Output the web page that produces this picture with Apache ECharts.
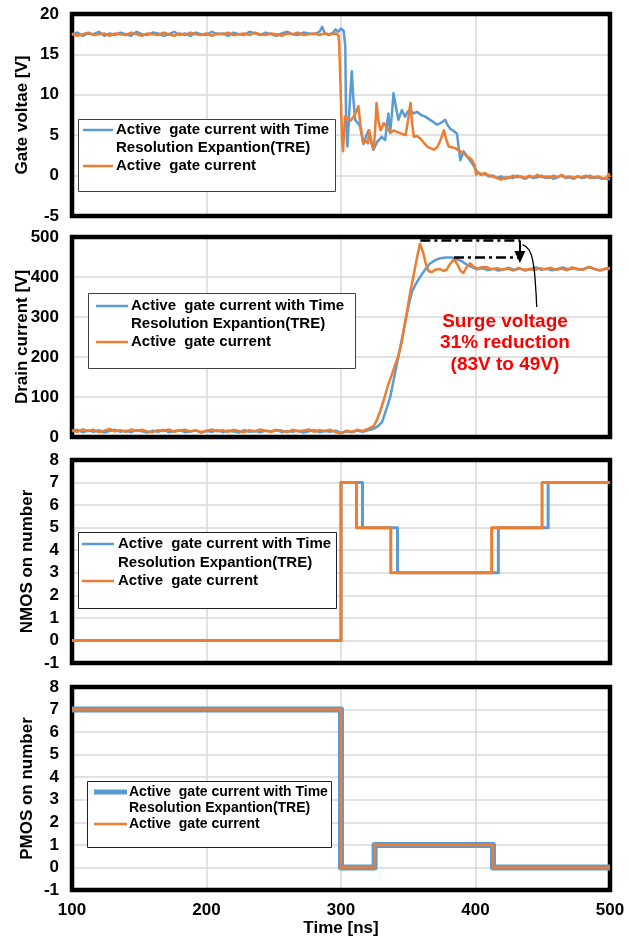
<!DOCTYPE html>
<html>
<head>
<meta charset="utf-8">
<script src="https://cdn.jsdelivr.net/npm/echarts/dist/echarts.min.js"></script>
<style>
  html, body { margin: 0; padding: 0; background: #ffffff; }
  #chart { width: 629px; height: 941px; }
</style>
</head>
<body>
<div id="chart"></div>
<script>
// Time axis (ns)
const timeTicks = [100, 200, 300, 400, 500];

// Series names shared by every panel
const seriesNames = [
  'Active  gate current with Time\nResolution Expantion(TRE)',
  'Active  gate current'
];
const seriesColors = ['#5b9bd5', '#ed7d31'];

// Gate voltage [V] vs time [ns]
const gateTre = [
  [100,17.4],[104,17.7],[108,17.3],[112,17.6],[116,17.5],[120,17.8],[124,17.3],[128,17.6],[132,17.4],[136,17.7],
  [140,17.5],[144,17.3],[148,17.8],[152,17.5],[156,17.4],[160,17.7],[164,17.6],[168,17.3],[172,17.5],[176,17.8],
  [180,17.4],[184,17.6],[188,17.3],[192,17.7],[196,17.5],[200,17.4],[204,17.8],[208,17.5],[212,17.6],[216,17.3],
  [220,17.7],[224,17.5],[228,17.4],[232,17.8],[236,17.6],[240,17.4],[244,17.7],[248,17.5],[252,17.3],[256,17.6],
  [260,17.8],[264,17.5],[268,17.4],[272,17.7],[276,17.6],[280,17.5],[284,17.8],[286,18.4],[288,17.6],[291,17.4],
  [294,17.7],[296,18.1],[298,17.8],[300,18.2],[302,17.9],[303.2,16.0],[303.8,6.4],[304.8,3.6],[306.5,9.0],[308,12.9],
  [309.2,9.5],[310.5,6.9],[312.5,6.5],[314.2,6.1],[316.6,3.9],[318.5,4.8],[320.4,5.6],[322.3,4.2],[324.1,3.2],[327,4.2],
  [330.3,4.8],[332.8,4.4],[335.2,7.7],[336.5,5.3],[337.8,7.5],[339,10.2],[340.5,8.8],[342.7,6.9],[345.2,8.1],[347.7,7.3],
  [349.5,7.9],[351.4,8.1],[354,7.7],[356.4,7.9],[359.5,7.5],[362.6,7.3],[366.3,6.9],[369,6.6],[371.3,6.3],[374,6.5],
  [377.5,6.9],[379.5,6.2],[381.2,5.8],[384,5.5],[386.2,5.2],[387.5,3.5],[388.7,1.9],[391.2,3.0],[393.7,2.4],[396.2,1.8],
  [398.7,1.2],[401.1,0.5],[404,0.1],[407,0.2],[410,-0.1],[413,0.0],[416,-0.3],[419,-0.1],[422,-0.4],[425,-0.2],
  [428,-0.3],[431,0.0],[434,-0.2],[437,-0.4],[440,-0.1],[443,-0.3],[446,-0.2],[449,0.0],[452,-0.3],[455,-0.1],
  [458,-0.4],[461,-0.2],[464,0.0],[467,-0.3],[470,-0.2],[473,-0.4],[476,-0.1],[479,-0.3],[482,-0.2],[485,0.0],
  [488,-0.3],[491,-0.2],[494,-0.4],[497,-0.3],[500,-0.5]
];
const gateAgc = [
  [100,17.6],[104,17.3],[108,17.5],[112,17.7],[116,17.4],[120,17.5],[124,17.6],[128,17.3],[132,17.6],[136,17.5],
  [140,17.4],[144,17.7],[148,17.5],[152,17.3],[156,17.6],[160,17.5],[164,17.4],[168,17.7],[172,17.5],[176,17.3],
  [180,17.6],[184,17.4],[188,17.7],[192,17.5],[196,17.4],[200,17.6],[204,17.3],[208,17.6],[212,17.5],[216,17.7],
  [220,17.4],[224,17.5],[228,17.6],[232,17.4],[236,17.7],[240,17.5],[244,17.4],[248,17.6],[252,17.5],[256,17.3],
  [260,17.6],[264,17.5],[268,17.7],[272,17.4],[276,17.5],[280,17.6],[284,17.4],[288,17.6],[292,17.5],[296,17.6],
  [298,17.4],[298.6,16.5],[299.2,13.4],[300,9.0],[300.8,4.5],[301.5,3.0],[303,7.3],[305,7.0],[307,6.8],[309,7.2],
  [311,7.8],[312.9,8.6],[314.5,6.2],[316.6,4.0],[318.5,4.3],[320,4.0],[321,5.6],[322.5,4.3],[324.4,3.4],[325.5,6.0],
  [326.4,9.0],[327.8,6.8],[329.4,5.6],[331.9,6.5],[334,6.0],[336.8,5.3],[339,5.6],[341.8,5.4],[345,5.2],[348,5.0],
  [349.8,6.8],[351.7,9.0],[352.8,6.5],[354.2,4.8],[356.5,4.9],[359,4.6],[361.5,4.1],[364,3.6],[366.5,3.4],[369,3.2],
  [371.5,3.5],[374,4.4],[376.5,5.6],[378.2,4.5],[380,3.6],[382.5,3.5],[385,3.4],[388.8,3.0],[391.2,2.7],[393.8,2.4],
  [395.6,2.2],[397.5,1.9],[399.5,1.2],[400.4,0.1],[402,0.4],[404,0.2],[407,0.3],[410,0.0],[413,-0.1],[416,-0.3],
  [419,-0.5],[422,-0.2],[425,-0.3],[428,0.0],[431,-0.2],[434,-0.1],[437,-0.3],[440,0.0],[443,-0.2],[446,0.1],
  [449,-0.2],[452,-0.1],[455,-0.3],[458,0.0],[461,-0.2],[464,0.1],[467,-0.2],[470,-0.1],[473,-0.3],[476,-0.1],
  [479,-0.2],[482,0.0],[485,-0.3],[488,-0.2],[491,-0.1],[494,-0.3],[497,-0.4],[499,0.2],[500,-0.2]
];

// Drain voltage [V] vs time [ns]
const drainTre = [
  [100,14],[104,18],[108,12],[112,16],[116,13],[120,17],[124,11],[128,15],[132,18],[136,13],
  [140,16],[144,12],[148,17],[152,14],[156,11],[160,16],[164,13],[168,18],[172,12],[176,15],
  [180,17],[184,12],[188,14],[192,16],[196,11],[200,15],[204,13],[208,17],[212,12],[216,16],
  [220,14],[224,11],[228,17],[232,13],[236,15],[240,12],[244,16],[248,14],[252,18],[256,12],
  [260,15],[264,13],[268,16],[272,11],[276,14],[280,17],[284,12],[288,15],[292,13],[296,16],
  [300,10],[304,14],[308,12],[312,16],[316,13],[320,17],[323,19],[326,24],[328.5,30],[330.5,37],
  [333,62],[336.4,97],[339,140],[342.4,197],[345,240],[347.4,280],[350,325],[352.8,363],[356,385],[359,401],
  [362,416],[366,433],[370,442],[374,447],[378,449],[382,449],[386,445],[390,439],[394,430],[398,424],
  [401,419],[405,422],[409,417],[413,421],[417,416],[421,419],[425,423],[429,418],[433,421],[437,416],
  [441,420],[445,424],[449,418],[453,421],[457,417],[461,420],[465,424],[469,419],[473,422],[477,418],
  [481,421],[485,425],[489,419],[493,416],[497,421],[500,420]
];
const drainAgc = [
  [100,17],[104,13],[108,19],[112,15],[116,18],[120,12],[124,16],[128,20],[132,14],[136,17],
  [140,13],[144,19],[148,15],[152,18],[156,14],[160,12],[164,17],[168,15],[172,19],[176,13],
  [180,16],[184,18],[188,14],[192,17],[196,12],[200,16],[204,19],[208,14],[212,17],[216,13],
  [220,18],[224,15],[228,12],[232,17],[236,14],[240,19],[244,15],[248,13],[252,17],[256,16],
  [260,12],[264,18],[268,14],[272,16],[276,19],[280,13],[284,17],[288,15],[292,18],[296,12],
  [300,9],[304,16],[308,13],[312,18],[316,15],[320,20],[322.5,24],[324.5,28],[327,45],[329,63],
  [332,95],[335,130],[338,158],[340,178],[342.4,200],[345,235],[347,275],[349,312],[351.3,358],[354,405],
  [356.5,448],[358.7,483],[361,462],[363,434],[365,415],[367.4,412],[370,418],[373.6,420],[376,415],[378.5,418],
  [381,432],[384,445],[386.5,432],[389,415],[391,410],[393.5,425],[396,434],[398.5,426],[401,421],[404,424],
  [408,425],[412,419],[416,422],[420,418],[424,421],[428,416],[432,423],[436,418],[440,420],[444,417],
  [448,422],[452,419],[456,423],[460,418],[464,421],[468,417],[472,424],[476,420],[480,418],[484,425],
  [488,421],[492,417],[496,420],[500,423]
];

// Number of NMOS / PMOS switched on (step changes at the listed times)
const nmosTre = [[100,0],[300,7],[316,5],[342,3],[417,5],[454,7],[500,7]];
const nmosAgc = [[100,0],[300,7],[311.5,5],[337,3],[412,5],[449.5,7],[500,7]];
const pmosTre = [[100,7],[300,0],[325,1],[413,0],[500,0]];
const pmosAgc = [[100,7],[300,0],[325,1],[413,0],[500,0]];

// Surge annotation: peak levels (V) and the callout text
const surgePeakAgc = 483;
const surgePeakTre = 449;
const surgeGuideTop = 491;
const surgeText = ['Surge voltage', '31% reduction', '(83V to 49V)'];
const calloutPath = [[435,481],[440,467],[443,432],[444.6,380],[445.5,325]];

const FONT = "'Liberation Sans', Arial, Helvetica, sans-serif";

const panels = [
  { top: 14,  height: 202, min: -5, max: 20,  interval: 5,   name: 'Gate voltae [V]',    nameGap: 41 },
  { top: 237, height: 200, min: 0,  max: 500, interval: 100, name: 'Drain current [V]',  nameGap: 41 },
  { top: 460, height: 203, min: -1, max: 8,   interval: 1,   name: 'NMOS on number',     nameGap: 36 },
  { top: 687, height: 203, min: -1, max: 8,   interval: 1,   name: 'PMOS on number',     nameGap: 36 }
];
const plotLeft = 72;
const plotWidth = 538;

const grids = panels.map(p => ({
  left: plotLeft, width: plotWidth, top: p.top, height: p.height, show: false
}));

const xAxes = panels.map((p, i) => {
  const last = i === panels.length - 1;
  return {
    type: 'value', gridIndex: i, min: timeTicks[0], max: timeTicks[timeTicks.length - 1], interval: 100,
    axisLine: { show: false }, axisTick: { show: false },
    splitLine: { show: true, lineStyle: { color: '#d9d9d9', width: 1.5 } },
    axisLabel: {
      show: last, margin: 12, color: '#000', fontFamily: FONT, fontSize: 17, fontWeight: 'bold',
      showMinLabel: true, showMaxLabel: true
    },
    name: last ? 'Time [ns]' : '', nameLocation: 'middle', nameGap: 30, nameMoveOverlap: false,
    nameTextStyle: { color: '#000', fontFamily: FONT, fontSize: 17, fontWeight: 'bold' }
  };
});

const yAxes = panels.map((p, i) => ({
  type: 'value', gridIndex: i, min: p.min, max: p.max, interval: p.interval,
  axisLine: { show: false }, axisTick: { show: false },
  splitLine: { show: true, lineStyle: { color: '#d9d9d9', width: 1.5 } },
  axisLabel: {
    margin: 13, color: '#000', fontFamily: FONT, fontSize: 17, fontWeight: 'bold',
    showMinLabel: true, showMaxLabel: true
  },
  name: p.name, nameLocation: 'middle', nameRotate: 90, nameGap: p.nameGap, nameMoveOverlap: false,
  nameTextStyle: { color: '#000', fontFamily: FONT, fontSize: 17, fontWeight: 'bold' }
}));

function lineSeries(name, data, axis, color, width, z, extra) {
  return Object.assign({
    type: 'line', name: name, data: data, xAxisIndex: axis, yAxisIndex: axis,
    showSymbol: false, symbol: 'none', clip: true, z: z,
    lineStyle: { color: color, width: width, join: 'round' },
    itemStyle: { color: color },
    emphasis: { disabled: true }, silent: true
  }, extra || {});
}

const dashDot = { color: '#000', width: 2.5, type: [10, 4, 3, 4] };

const series = [
  lineSeries(seriesNames[0], gateTre, 0, seriesColors[0], 2.5, 3),
  lineSeries(seriesNames[1], gateAgc, 0, seriesColors[1], 2.5, 4),
  lineSeries(seriesNames[0], drainTre, 1, seriesColors[0], 2.5, 3),
  lineSeries(seriesNames[1], drainAgc, 1, seriesColors[1], 2.5, 4, {
    markLine: {
      silent: true, animation: false, label: { show: false }, symbol: ['none', 'none'],
      emphasis: { disabled: true },
      data: [
        [{ coord: [359, surgeGuideTop], lineStyle: dashDot }, { coord: [433, surgeGuideTop] }],
        [{ coord: [384, surgePeakTre], lineStyle: dashDot }, { coord: [433, surgePeakTre] }],
        [{ coord: [433, surgeGuideTop], symbol: 'none', lineStyle: { color: '#000', width: 2, type: 'solid' } },
         { coord: [433, surgePeakTre + 1], symbol: 'triangle', symbolSize: [11, 12], symbolRotate: 180 }]
      ]
    }
  }),
  lineSeries('callout', calloutPath, 1, '#000', 1.3, 5, { smooth: 0.5 }),
  lineSeries(seriesNames[0], nmosTre, 2, seriesColors[0], 3, 3, { step: 'end' }),
  lineSeries(seriesNames[1], nmosAgc, 2, seriesColors[1], 3, 4, { step: 'end' }),
  lineSeries(seriesNames[0], pmosTre, 3, seriesColors[0], 6, 3, { step: 'end' }),
  lineSeries(seriesNames[1], pmosAgc, 3, seriesColors[1], 2.5, 4, { step: 'end' })
];

// Legend boxes drawn inside each panel
const legendLayouts = [
  { box: [78, 119, 257, 72],  line: [83, 113],  textX: 116, rows: [130, 166], lh: 18, font: 'bold 15px ' + FONT,  widths: [2.5, 2.5], border: '#404040' },
  { box: [88, 293, 267, 75],  line: [96, 128],  textX: 131, rows: [306, 342], lh: 18, font: 'bold 15px ' + FONT,  widths: [2.5, 2.5], border: '#404040' },
  { box: [78, 532, 258, 76],  line: [82, 114],  textX: 118, rows: [544, 581], lh: 18.5, font: 'bold 15px ' + FONT, widths: [2.5, 2.5], border: '#202020' },
  { box: [87, 781, 244, 66],  line: [94, 127],  textX: 129, rows: [792, 824], lh: 16, font: 'bold 14px ' + FONT,  widths: [5, 2.5],  border: '#202020' }
];

function legendGraphic(cfg) {
  const els = [{
    type: 'rect', z: 100,
    shape: { x: cfg.box[0] + 0.5, y: cfg.box[1] + 0.5, width: cfg.box[2], height: cfg.box[3] },
    style: { fill: '#ffffff', stroke: cfg.border, lineWidth: 1 }
  }];
  cfg.rows.forEach((rowY, i) => {
    els.push({
      type: 'line', z: 101,
      shape: { x1: cfg.line[0], y1: rowY, x2: cfg.line[1], y2: rowY },
      style: { stroke: seriesColors[i], lineWidth: cfg.widths[i] }
    });
    els.push({
      type: 'text', z: 101, x: cfg.textX, y: rowY - cfg.lh / 2,
      style: { text: seriesNames[i], font: cfg.font, fill: '#000', lineHeight: cfg.lh, verticalAlign: 'top', align: 'left' }
    });
  });
  return els;
}

const graphics = [];
// Heavy black frame around each plot area, above the grid lines and below the curves
panels.forEach(p => graphics.push({
  type: 'rect', z: 1, silent: true,
  shape: { x: plotLeft, y: p.top, width: plotWidth, height: p.height },
  style: { fill: null, stroke: '#000000', lineWidth: 4.5 }
}));
legendLayouts.forEach(cfg => graphics.push(...legendGraphic(cfg)));
graphics.push({
  type: 'text', z: 102, x: 505, y: 311,
  style: {
    text: surgeText.join('\n'), font: 'bold 19px ' + FONT, fill: '#ff0000',
    align: 'center', verticalAlign: 'top', lineHeight: 21.5
  }
});

const chart = echarts.init(document.getElementById('chart'), null, { renderer: 'canvas' });
chart.setOption({
  animation: false,
  backgroundColor: '#ffffff',
  grid: grids,
  xAxis: xAxes,
  yAxis: yAxes,
  series: series,
  graphic: graphics
});
</script>
</body>
</html>
